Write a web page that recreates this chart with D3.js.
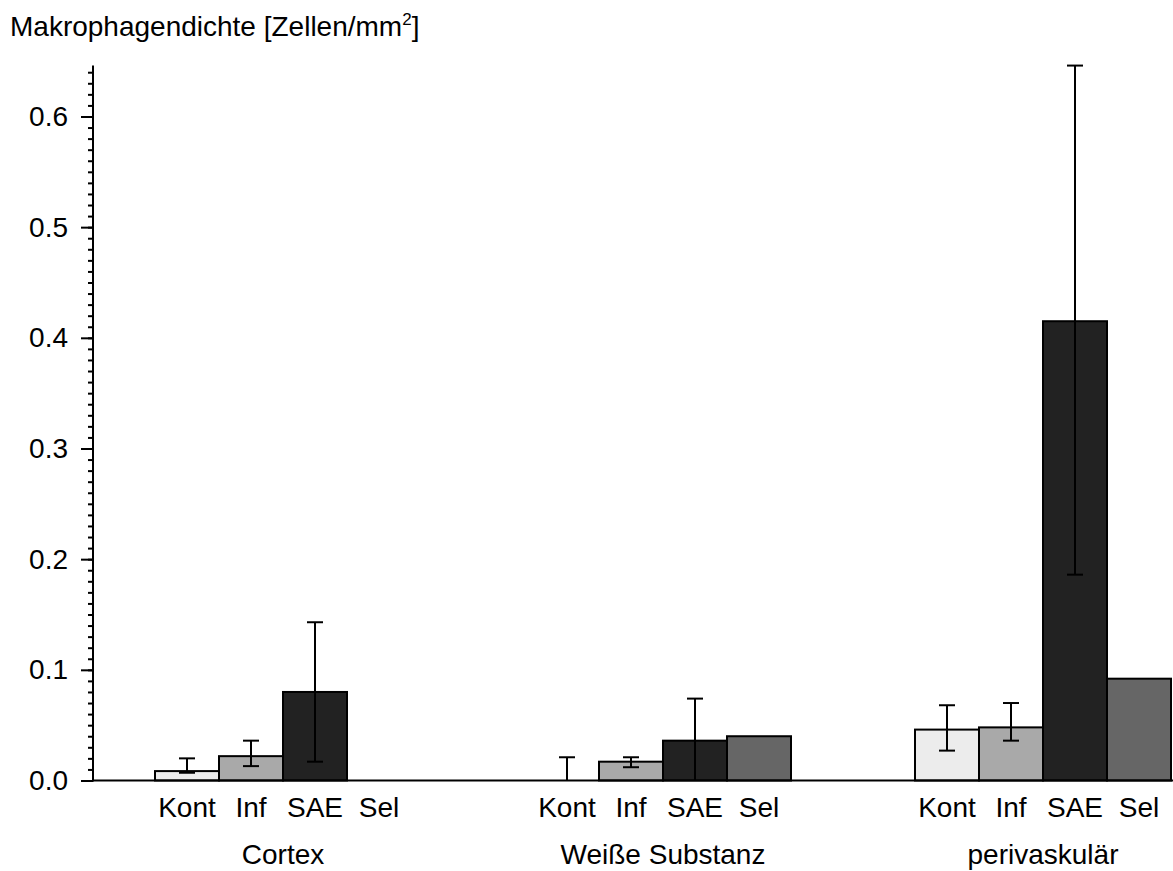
<!DOCTYPE html>
<html>
<head>
<meta charset="utf-8">
<script src="https://cdn.jsdelivr.net/npm/d3@7"></script>
<style>
  html, body { margin: 0; padding: 0; background: #fff; }
  svg { display: block; font-family: "Liberation Sans", Arial, sans-serif; }
</style>
</head>
<body>
<svg id="chart" width="1173" height="871"></svg>
<script>
// Regions (groups) and treatment groups within each region
const regions = ["Cortex", "Weiße Substanz", "perivaskulär"];
const groups = ["Kont", "Inf", "SAE", "Sel"];

// Mean macrophage density per region, in the order of `groups`
const cortexMean = [0.0085, 0.022, 0.080, 0.0];
const whiteMean  = [0.0, 0.017, 0.036, 0.040];
const perivMean  = [0.046, 0.048, 0.415, 0.092];

// Error-bar limits (lower / upper); null = no error bar
const cortexLow  = [0.007, 0.013, 0.017, null];
const cortexHigh = [0.020, 0.036, 0.143, null];
const whiteLow   = [0.0, 0.012, 0.0, null];
const whiteHigh  = [0.021, 0.021, 0.074, null];
const perivLow   = [0.027, 0.036, 0.186, null];
const perivHigh  = [0.068, 0.070, 0.646, null];

const yTicks = [0.0, 0.1, 0.2, 0.3, 0.4, 0.5, 0.6];
const yMax = 0.646;

const fills = ["#ececec", "#a9a9a9", "#222222", "#666666"];

const means = [cortexMean, whiteMean, perivMean];
const lows = [cortexLow, whiteLow, perivLow];
const highs = [cortexHigh, whiteHigh, perivHigh];

const svg = d3.select("#chart");
const axisX = 93, baseY = 780.5;
const fontSize = 28;

const y = d3.scaleLinear().domain([0, yMax]).range([baseY, baseY - yMax * 1106.7]);
const x0 = d3.scaleBand().domain(regions).range([axisX, axisX + 3 * 380]).padding(0);
const x1 = d3.scaleBand().domain(groups).range([0, x0.bandwidth()])
  .paddingInner(0).paddingOuter((x0.bandwidth() / 64 - groups.length) / 2);

// Bars
const data = [];
regions.forEach((r, i) => groups.forEach((g, j) => {
  data.push({ region: r, group: g, j, v: means[i][j], lo: lows[i][j], hi: highs[i][j] });
}));

svg.append("g").selectAll("rect").data(data).join("rect")
  .attr("x", d => x0(d.region) + x1(d.group))
  .attr("y", d => y(d.v))
  .attr("width", x1.bandwidth())
  .attr("height", d => y(0) - y(d.v))
  .attr("fill", d => fills[d.j])
  .attr("stroke", "#000")
  .attr("stroke-width", 2);

// Error bars
const eb = svg.append("g").attr("stroke", "#000").attr("stroke-width", 2);
data.filter(d => d.hi !== null).forEach(d => {
  const cx = x0(d.region) + x1(d.group) + x1.bandwidth() / 2;
  eb.append("line").attr("x1", cx).attr("x2", cx).attr("y1", y(d.lo)).attr("y2", y(d.hi));
  eb.append("line").attr("x1", cx - 8).attr("x2", cx + 8).attr("y1", y(d.hi)).attr("y2", y(d.hi));
  if (d.lo > 0) eb.append("line").attr("x1", cx - 8).attr("x2", cx + 8).attr("y1", y(d.lo)).attr("y2", y(d.lo));
});

// Y axis with minor ticks every 0.01
const minor = d3.range(0, 65).map(i => i / 100).filter(v => v <= yMax);
const yAxis = svg.append("g").attr("transform", `translate(${axisX},0)`);
yAxis.call(d3.axisLeft(y).tickValues(minor).tickSize(5).tickFormat(""))
  .call(g => g.select(".domain").remove());
yAxis.append("g").call(d3.axisLeft(y).tickValues(yTicks).tickSize(12).tickPadding(13)
    .tickFormat(d3.format(".1f")))
  .call(g => g.select(".domain").remove())
  .call(g => g.selectAll("text").attr("font-size", fontSize).attr("fill", "#000")
    .attr("font-family", "Liberation Sans, Arial, sans-serif"));
yAxis.selectAll("line").attr("stroke", "#000").attr("stroke-width", 2);
yAxis.append("line").attr("x1", 0).attr("x2", 0).attr("y1", y(0) + 1).attr("y2", y(yMax))
  .attr("stroke", "#000").attr("stroke-width", 2);

// X baseline
svg.append("line").attr("x1", axisX).attr("x2", 1173).attr("y1", baseY).attr("y2", baseY)
  .attr("stroke", "#000").attr("stroke-width", 2);

// Group labels under bars
svg.append("g").selectAll("text").data(data).join("text")
  .attr("x", d => x0(d.region) + x1(d.group) + x1.bandwidth() / 2)
  .attr("y", 817)
  .attr("text-anchor", "middle")
  .attr("font-size", fontSize)
  .text(d => d.group);

// Region labels
svg.append("g").selectAll("text").data(regions).join("text")
  .attr("x", r => x0(r) + x0.bandwidth() / 2)
  .attr("y", 864)
  .attr("text-anchor", "middle")
  .attr("font-size", fontSize)
  .text(r => r);

// Axis title
const t = svg.append("text").attr("x", 10).attr("y", 36).attr("font-size", fontSize);
t.append("tspan").text("Makrophagendichte [Zellen/mm");
t.append("tspan").attr("font-size", 17).attr("dy", -11).text("2");
t.append("tspan").attr("dy", 11).text("]");
</script>
</body>
</html>
